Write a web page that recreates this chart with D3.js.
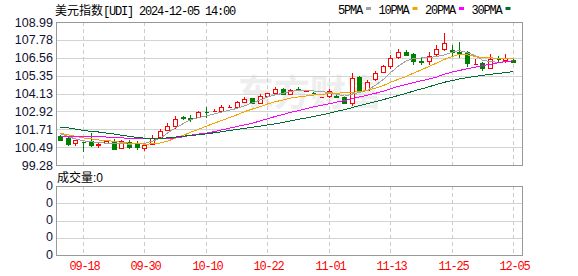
<!DOCTYPE html>
<html>
<head>
<meta charset="utf-8">
<script src="https://cdn.jsdelivr.net/npm/d3@7"></script>
<style>
body { margin: 0; background: #fff; }
svg { display: block; }
</style>
</head>
<body>
<div id="chart"></div>
<script>
// trading days shown
const dates = ["09-13","09-16","09-17","09-18","09-19","09-20","09-23","09-24","09-25","09-26","09-27","09-30",
    "10-01","10-02","10-03","10-04","10-07","10-08","10-09","10-10","10-11","10-14","10-15","10-16","10-17","10-18",
    "10-21","10-22","10-23","10-24","10-25","10-28","10-29","10-30","10-31","11-01","11-04","11-05","11-06","11-07",
    "11-08","11-11","11-12","11-13","11-14","11-15","11-18","11-19","11-20","11-21","11-22","11-25","11-26","11-27",
    "11-28","11-29","12-02","12-03","12-04","12-05"]

const opens = [101.27,101.14,100.75,100.83,100.90,100.66,100.80,100.86,100.42,100.86,100.75,100.46,
    100.73,101.18,101.64,101.93,102.52,102.48,102.52,102.88,102.93,102.97,103.22,103.25,103.56,103.81,
    103.47,103.99,104.15,104.42,104.08,104.44,104.32,104.20,103.87,103.99,103.95,103.88,103.47,105.24,
    104.37,105.10,105.62,106.00,106.59,106.98,106.80,106.36,106.34,106.80,107.16,107.10,106.95,106.98,
    106.12,106.18,105.89,106.50,106.41,106.41]
const highs = [101.32,101.16,101.00,100.85,101.43,100.76,100.95,101.05,100.95,100.95,100.90,100.70,
    101.30,101.72,102.10,102.60,102.60,102.65,102.95,103.20,103.05,103.35,103.35,103.65,103.88,103.85,
    104.10,104.20,104.60,104.50,104.45,104.55,104.40,104.25,103.89,104.45,104.05,103.95,105.55,105.35,
    105.05,105.68,106.10,106.75,107.14,107.10,106.86,106.60,106.95,107.40,108.22,107.40,107.65,107.05,
    106.45,106.30,106.80,106.65,106.80,106.48]
const lows = [100.90,100.59,100.60,100.18,100.50,100.42,100.74,100.30,100.35,100.35,100.30,100.20,
    100.67,101.11,101.60,101.75,102.35,102.20,102.45,102.50,102.85,102.90,103.15,103.20,103.50,103.44,
    103.40,103.90,104.05,104.02,104.00,104.30,104.28,104.12,103.86,103.80,103.85,103.40,103.29,104.15,
    104.32,104.98,105.55,105.80,106.46,106.70,106.10,106.10,106.10,106.70,107.02,106.60,106.52,105.95,
    106.05,105.67,105.85,106.30,106.20,106.35]
const closes = [100.99,100.71,100.99,100.81,100.64,100.72,100.90,100.37,100.91,100.52,100.48,100.64,
    101.14,101.61,101.93,102.38,102.48,102.42,102.90,102.85,102.97,103.24,103.25,103.58,103.76,103.49,
    103.99,104.15,104.42,104.08,104.37,104.40,104.35,104.17,103.88,104.33,103.92,103.47,105.17,104.33,
    104.94,105.50,106.00,106.52,106.93,106.75,106.34,106.30,106.70,107.16,107.54,106.97,106.90,106.18,
    106.16,105.85,106.48,106.47,106.57,106.30]

// moving averages
const ma5 = [101.39,101.20,101.05,100.92,100.85,100.80,100.76,100.74,100.72,100.70,100.72,100.75,
    100.90,101.10,101.45,101.80,102.10,102.35,102.50,102.62,102.75,102.87,103.00,103.13,103.30,103.50,
    103.70,103.90,104.05,104.15,104.28,104.33,104.32,104.31,104.25,104.22,104.10,103.95,104.10,104.20,
    104.35,104.70,105.10,105.55,106.00,106.36,106.50,106.55,106.58,106.65,106.75,106.95,107.05,106.90,
    106.70,106.40,106.30,106.25,106.30,106.36]
const ma10 = [101.43,101.33,101.22,101.12,101.05,100.98,100.94,100.88,100.82,100.76,100.72,100.70,
    100.71,100.78,100.90,101.10,101.30,101.50,101.70,101.92,102.12,102.30,102.50,102.70,102.90,103.08,
    103.25,103.42,103.58,103.70,103.82,103.90,103.97,104.03,104.08,104.13,104.16,104.18,104.22,104.26,
    104.35,104.50,104.68,104.90,105.10,105.30,105.52,105.75,105.98,106.20,106.45,106.65,106.80,106.75,
    106.65,106.57,106.55,106.53,106.53,106.53]
const ma20 = [101.25,101.23,101.22,101.21,101.20,101.20,101.18,101.15,101.12,101.10,101.09,101.08,
    101.08,101.08,101.09,101.12,101.20,101.30,101.38,101.45,101.55,101.66,101.78,101.90,102.00,102.12,
    102.28,102.42,102.58,102.72,102.85,102.97,103.10,103.22,103.33,103.44,103.55,103.66,103.78,103.90,
    104.02,104.15,104.30,104.45,104.62,104.75,104.88,105.00,105.12,105.25,105.45,105.60,105.70,105.82,
    105.92,106.02,106.12,106.22,106.30,106.36]
const ma30 = [101.84,101.80,101.72,101.62,101.56,101.52,101.45,101.38,101.30,101.22,101.15,101.10,
    101.07,101.08,101.12,101.18,101.24,101.28,101.33,101.40,101.47,101.54,101.62,101.70,101.77,101.84,
    101.92,102.00,102.08,102.18,102.28,102.38,102.48,102.57,102.68,102.80,102.92,103.04,103.18,103.32,
    103.45,103.58,103.72,103.86,104.00,104.15,104.30,104.45,104.60,104.75,104.90,105.02,105.12,105.22,
    105.30,105.37,105.44,105.50,105.56,105.62]

const yTicks = [108.99, 107.78, 106.56, 105.35, 104.13, 102.92, 101.71, 100.49, 99.28]
const dateTicks = ["09-18","09-30","10-10","10-22","11-01","11-13","11-25","12-05"]
const volTicks = ["0","0","0","0","0"]
const maNames = ["5PMA","10PMA","20PMA","30PMA"]
const maColors = ["#a0a0a0","#f5a300","#ff00ff","#006e30"]

const W = 578, H = 276
const left = 56, right = 522
const mainTop = 22, mainBottom = 165
const volTop = 186, volBottom = 255
const mono = "'Liberation Mono', 'DejaVu Sans Mono', monospace"
const cjk = "'Noto Sans CJK SC', sans-serif"
const sans = "'Liberation Sans', Arial, sans-serif"

const svg = d3.select("#chart").append("svg")
    .attr("width", W)
    .attr("height", H)

const x = d3.scaleBand().domain(dates).range([left, 517])
const cx = d => Math.round(x(d) + x.bandwidth() / 2)
const y = d3.scaleLinear().domain([99.28, 108.99]).range([mainBottom, mainTop])
const yv = d3.scalePoint().domain(d3.range(volTicks.length)).range([volBottom, volTop])

// watermark
svg.append("text")
    .attr("x", 238).attr("y", 106)
    .attr("font-family", cjk).attr("font-size", 36).attr("font-weight", "bold")
    .attr("fill", "#eeeeee")
    .text("东方财富")

const grid = svg.append("g").attr("shape-rendering", "crispEdges")

// horizontal grid, main pane
grid.selectAll("line.hg").data(yTicks.slice(1, -1)).join("line")
    .attr("x1", left).attr("x2", right)
    .attr("y1", d => Math.round(y(d)) + 0.5).attr("y2", d => Math.round(y(d)) + 0.5)
    .attr("stroke", "#d3d3d3")

// horizontal grid, volume pane
grid.selectAll("line.vg").data(d3.range(1, volTicks.length - 1)).join("line")
    .attr("x1", left).attr("x2", right)
    .attr("y1", d => Math.round(yv(d)) + 0.5).attr("y2", d => Math.round(yv(d)) + 0.5)
    .attr("stroke", "#d3d3d3")

// vertical dashed grid
;[[mainTop, mainBottom], [volTop, volBottom]].forEach(([t, b]) => {
    grid.append("g").selectAll("line").data(dateTicks).join("line")
        .attr("x1", d => cx(d) + 0.5).attr("x2", d => cx(d) + 0.5)
        .attr("y1", t).attr("y2", b)
        .attr("stroke", "#cccccc")
        .attr("stroke-dasharray", "4,3")
})

// frames
grid.append("rect")
    .attr("x", left + 0.5).attr("y", mainTop + 0.5)
    .attr("width", right - left).attr("height", mainBottom - mainTop)
    .attr("fill", "none").attr("stroke", "#999")
grid.append("rect")
    .attr("x", left + 0.5).attr("y", volTop + 0.5)
    .attr("width", right - left).attr("height", volBottom - volTop)
    .attr("fill", "none").attr("stroke", "#999")

// y labels
svg.append("g").selectAll("text").data(yTicks).join("text")
    .attr("x", 53).attr("y", d => y(d) + 4.5)
    .attr("text-anchor", "end")
    .attr("font-family", sans).attr("font-size", 12.5)
    .attr("fill", "#101030")
    .text(d => d.toFixed(2))

svg.append("g").selectAll("text").data(volTicks).join("text")
    .attr("x", 53).attr("y", (d, i) => yv(i) + 3.5)
    .attr("text-anchor", "end")
    .attr("font-family", sans).attr("font-size", 12.5)
    .attr("fill", "#101040")
    .text(d => d)

// date labels
svg.append("g").selectAll("text").data(dateTicks).join("text")
    .attr("x", d => cx(d) + 1.5).attr("y", 270)
    .attr("text-anchor", "middle")
    .attr("font-family", mono).attr("font-size", 12)
    .attr("letter-spacing", -1.2)
    .attr("fill", "#ff0000")
    .text(d => d)

// candles
const candles = dates.map((d, i) => ({d: d, o: opens[i], h: highs[i], l: lows[i], c: closes[i]}))
const cg = svg.append("g").attr("shape-rendering", "crispEdges")
cg.selectAll("g").data(candles).join("g").each(function (k) {
    const g = d3.select(this)
    const up = k.c >= k.o
    const col = up ? "#ff0000" : "#008000"
    const xc = cx(k.d)
    const t = Math.round(y(Math.max(k.o, k.c)))
    const b = Math.round(y(Math.min(k.o, k.c)))
    const hi = Math.round(y(k.h))
    const lo = Math.round(y(k.l))
    if (up) {
        if (hi < t) g.append("line").attr("x1", xc + 0.5).attr("x2", xc + 0.5).attr("y1", hi).attr("y2", t).attr("stroke", col)
        if (lo > b) g.append("line").attr("x1", xc + 0.5).attr("x2", xc + 0.5).attr("y1", b + 1).attr("y2", lo).attr("stroke", col)
    } else {
        g.append("line").attr("x1", xc + 0.5).attr("x2", xc + 0.5).attr("y1", hi).attr("y2", lo).attr("stroke", col)
    }
    g.append("path")
        .attr("d", `M${xc - 1.5},${t + 0.5}H${xc + 2.5}V${b + 0.5}H${xc - 1.5}Z`)
        .attr("fill", up ? "#fff" : col)
        .attr("stroke", col)
})

// moving average lines
const line = d3.line().x((v, i) => cx(dates[i]) + 0.5).y(v => y(v))
;[ma5, ma10, ma20, ma30].forEach((s, j) => {
    svg.append("path")
        .attr("d", line(s))
        .attr("fill", "none")
        .attr("stroke", maColors[j])
        .attr("stroke-width", 1)
        .attr("shape-rendering", "crispEdges")
})

// title
const title = svg.append("text").attr("x", 55).attr("y", 14.5).attr("font-size", 12).attr("fill", "#000")
title.append("tspan").attr("font-family", cjk).text("美元指数")
title.append("tspan").attr("font-family", mono).attr("letter-spacing", -1.2).text("[UDI] 2024-12-05 14:00")

// legend
let lx = 338
maNames.forEach((n, j) => {
    svg.append("text")
        .attr("x", lx).attr("y", 14)
        .attr("font-family", mono).attr("font-size", 12)
        .attr("letter-spacing", -1.2)
        .attr("fill", "#000")
        .text(n)
    const rx = lx + n.length * 6 + 4
    svg.append("rect")
        .attr("x", rx).attr("y", 7)
        .attr("width", 5).attr("height", 3)
        .attr("fill", maColors[j])
    lx = rx + 5 + 7.5
})

// volume title
const vt = svg.append("text").attr("x", 57).attr("y", 182).attr("font-size", 12).attr("fill", "#000")
vt.append("tspan").attr("font-family", cjk).text("成交量")
vt.append("tspan").attr("font-family", sans).text(":0")
</script>
</body>
</html>
